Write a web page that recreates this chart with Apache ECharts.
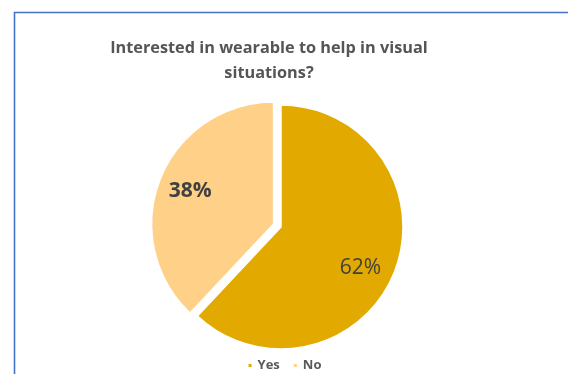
<!DOCTYPE html>
<html><head><meta charset="utf-8">
<script src="https://cdn.jsdelivr.net/npm/echarts@6/dist/echarts.min.js"></script>
<style>html,body{margin:0;padding:0;background:#fff}#c{width:568px;height:374px}</style>
</head><body><div id="c"></div>
<script>
const categories = ['Yes', 'No'];
const values = [62, 38];
const colors = ['#E2AA00', '#FFD088'];
const labelWeights = ['normal', 'bold'];
const labelNudges = [[-4, 8], [6, -3]];
const explode = [false, true];
const titleLines = ['Interested in wearable to help in visual', 'situations?'];

const chart = echarts.init(document.getElementById('c'), null, {renderer: 'canvas'});
const FONT = '"Open Sans", "DejaVu Sans", sans-serif';
const center = [281, 227];
const R = 122;

function mkData(withColor) {
  return categories.map((c, i) => ({
    name: c,
    value: values[i],
    selected: explode[i],
    itemStyle: {color: withColor ? colors[i] : 'rgba(0,0,0,0)'},
    select: {itemStyle: {color: withColor ? colors[i] : 'rgba(0,0,0,0)'}},
    label: {fontWeight: labelWeights[i], offset: labelNudges[i]}
  }));
}

chart.setOption({
  backgroundColor: '#fff',
  animation: false,
  color: colors,
  graphic: [
    {type: 'rect', shape: {x: 14.5, y: 12.5, width: 700, height: 500},
     style: {fill: 'none', stroke: '#4472C4', lineWidth: 1.6}, silent: true},
    {type: 'text', x: 269, y: 36,
     style: {text: titleLines.join('\n'), font: 'bold 16.3px ' + FONT, fill: '#555555',
             align: 'center', verticalAlign: 'top', lineHeight: 25}}
  ],
  legend: {
    data: categories,
    left: 'center',
    top: 354,
    icon: 'rect',
    itemWidth: 5,
    itemHeight: 5,
    itemGap: 12,
    selectedMode: false,
    textStyle: {fontFamily: FONT, fontWeight: 'bold', fontSize: 13, color: '#595959'}
  },
  series: [
    {
      type: 'pie',
      center: center,
      radius: [0, R],
      startAngle: 90,
      clockwise: true,
      silent: true,
      selectedMode: 'multiple',
      selectedOffset: 8,
      itemStyle: {borderColor: '#fff', borderWidth: 1.5},
      label: {show: false},
      labelLine: {show: false},
      emphasis: {disabled: true},
      data: mkData(true)
    },
    {
      type: 'pie',
      center: center,
      radius: [R * 0.42, R],
      startAngle: 90,
      clockwise: true,
      silent: true,
      selectedMode: 'multiple',
      selectedOffset: 8,
      itemStyle: {borderWidth: 0},
      label: {show: true, position: 'inside', fontFamily: FONT, fontSize: 21, color: '#404040',
              formatter: p => Math.round(p.percent) + '%'},
      labelLine: {show: false},
      emphasis: {disabled: true},
      data: mkData(false)
    }
  ]
});
</script></body></html>
